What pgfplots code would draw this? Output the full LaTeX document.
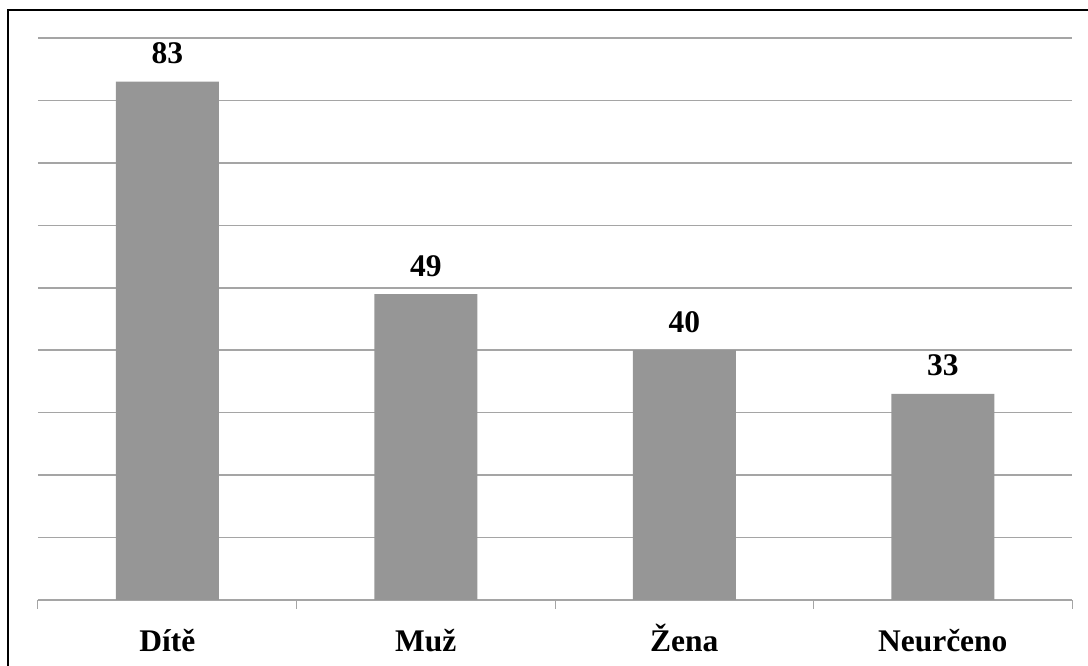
\documentclass[border=0pt]{standalone}
\usepackage{pgfplots}
\pgfplotsset{compat=1.18}
\usepackage{fontspec}
\setmainfont{Liberation Serif}
\definecolor{barg}{RGB}{150,150,150}
\definecolor{gridg}{RGB}{165,165,165}
\begin{document}
\begin{tikzpicture}[x=1pt,y=1pt]
\useasboundingbox (0,0) rectangle (1088,666);
\draw[black,line width=1.5pt] (8,0) -- (8,656) -- (1088,656);
\begin{axis}[
  at={(38pt,66pt)}, anchor=south west,
  scale only axis, width=1034pt, height=562pt,
  xmin=-0.5, xmax=3.5, ymin=0, ymax=90,
  axis x line*=bottom, axis y line*=left,
  y axis line style={draw=none},
  x axis line style={gridg, line width=1pt, -},
  ytick={0,10,...,90},
  yticklabels={},
  major y tick style={draw=none},
  ymajorgrids, grid style={gridg, line width=1.5pt},
  xtick={0,1,2,3},
  xticklabels={Dítě, Muž, Žena, Neurčeno},
  major x tick style={draw=none},
  minor xtick={-0.5,0.5,1.5,2.5,3.5},
  minor x tick style={gridg, line width=1pt},
  tick align=outside, minor tick length=9pt,
  xticklabel style={font=\fontsize{31.5}{38}\selectfont\bfseries, inner sep=0pt, anchor=base, yshift=-47pt},
  /pgf/number format/assume math mode=true,
  ybar, bar width=103pt, bar shift=0pt,
  nodes near coords={\pgfmathprintnumber{\pgfplotspointmeta}},
  every node near coord/.append style={font=\fontsize{31.5}{38}\selectfont\bfseries, inner sep=0pt, anchor=base, yshift=18pt},
  clip=false,
]
\addplot[fill=barg, draw=none] coordinates {(0,83) (1,49) (2,40) (3,33)};
\end{axis}
\end{tikzpicture}
\end{document}
